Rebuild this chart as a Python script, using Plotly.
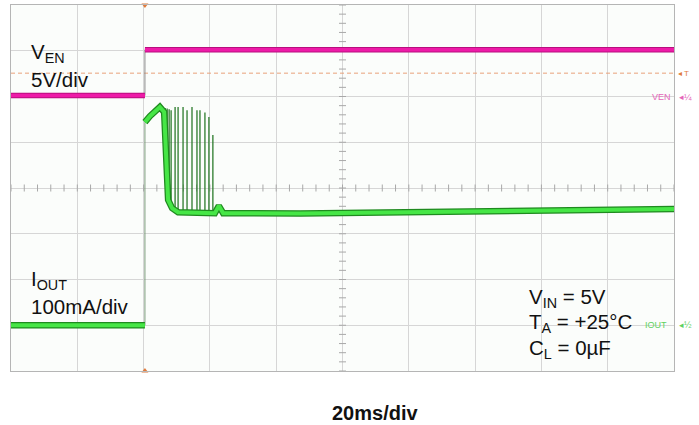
import plotly.graph_objects as go

# ---- data (time in ms from left edge of screen, 20 ms/div) ----
ven_t = [0.0, 40.4, 40.4, 200.0]          # ms
ven_v = [0.0, 0.0, 5.0, 5.0]              # V  (5 V/div)
trigger_level_v = 2.45                    # V

iout_t = [0.0, 40.4, 40.4, 41.9, 44.9, 46.2, 47.4, 48.6, 50.4, 61.5, 62.7, 64.0,
          87.2, 117.3, 147.5, 177.7, 200.0]
iout_ma = [0, 0, 444, 457, 477, 466, 274, 256, 247, 245, 261, 245,
           244, 247, 250, 252, 254]       # mA (100 mA/div)

spike_t = [46.5, 47.1, 47.7, 48.3, 49.5, 50.4, 51.9, 53.1, 54.6, 56.1, 57.0, 58.5, 59.7, 60.9]
spike_top = [475, 474, 472, 470, 477, 477, 477, 470, 477, 470, 470, 465, 455, 416]
spike_base = [420, 330, 280, 262, 248, 247, 246, 246, 246, 245, 245, 245, 245, 245]

W, H = 699, 425
L, R, T, B = 11, 25, 5, 54
FONT = "Liberation Sans, Arial, sans-serif"


def px(xp):
    return (xp - L) / (W - L - R)


def py(yp):
    return (H - B - yp) / (H - T - B)


fig = go.Figure()

# centre-line graticule ticks
ct_x = [i * 4 for i in range(51)]
fig.add_trace(go.Scatter(x=ct_x, y=[4] * len(ct_x), mode="markers",
                         marker=dict(symbol="line-ns-open", size=5, color="#a8a8a8",
                                     line=dict(width=1, color="#a8a8a8")),
                         hoverinfo="skip", showlegend=False))
ct_y = [i * 0.2 for i in range(41)]
fig.add_trace(go.Scatter(x=[100] * len(ct_y), y=ct_y, mode="markers",
                         marker=dict(symbol="line-ew-open", size=5, color="#a8a8a8",
                                     line=dict(width=1, color="#a8a8a8")),
                         hoverinfo="skip", showlegend=False))

# trigger level (dashed orange)
fig.add_trace(go.Scatter(x=[0, 200], y=[trigger_level_v] * 2, yaxis="y2", mode="lines",
                         line=dict(color="#e8a27a", width=1, dash="4px,3px"),
                         hoverinfo="skip", showlegend=False))

# ---- VEN channel ----
fig.add_trace(go.Scatter(x=ven_t, y=ven_v, yaxis="y2", mode="lines",
                         line=dict(color="#8a8a8a", width=1), showlegend=False))
ven_seg_x = ven_t[:2] + [None] + ven_t[2:]
ven_seg_y = ven_v[:2] + [None] + ven_v[2:]
fig.add_trace(go.Scatter(x=ven_seg_x, y=ven_seg_y, yaxis="y2", mode="lines",
                         line=dict(color="#b80f7e", width=5.5), showlegend=False))
fig.add_trace(go.Scatter(x=ven_seg_x, y=ven_seg_y, yaxis="y2", mode="lines",
                         line=dict(color="#ee1ba8", width=3.5), showlegend=False))

# ---- IOUT channel ----
fig.add_trace(go.Scatter(x=iout_t[:3], y=iout_ma[:3], yaxis="y3", mode="lines",
                         line=dict(color="#7a9a7a", width=1), showlegend=False))
sx, sy = [], []
for t, top, base in zip(spike_t, spike_top, spike_base):
    sx += [t, t, None]
    sy += [base, top, None]
fig.add_trace(go.Scatter(x=sx, y=sy, yaxis="y3", mode="lines",
                         line=dict(color="#2a7a2a", width=1.3), showlegend=False))
io_seg_x = iout_t[:2] + [None] + iout_t[2:]
io_seg_y = iout_ma[:2] + [None] + iout_ma[2:]
fig.add_trace(go.Scatter(x=io_seg_x, y=io_seg_y, yaxis="y3", mode="lines",
                         line=dict(color="#1f8a1f", width=6.5), showlegend=False))
fig.add_trace(go.Scatter(x=io_seg_x, y=io_seg_y, yaxis="y3", mode="lines",
                         line=dict(color="#46e646", width=4), showlegend=False))

# trigger position markers
fig.add_trace(go.Scatter(x=[40.4, 40.4], y=[8, 0], mode="markers", cliponaxis=False,
                         marker=dict(symbol=["triangle-down", "triangle-up"], size=6,
                                     color="#e07b3c"),
                         hoverinfo="skip", showlegend=False))

ann = []


def text(x, y, s, size=20.5, color="#111111", xanchor="left", yanchor="middle", bold=False):
    if bold:
        s = "<b>" + s + "</b>"
    ann.append(dict(x=x, y=y, xref="paper", yref="paper", text=s, showarrow=False,
                    xanchor=xanchor, yanchor=yanchor, borderpad=0,
                    font=dict(family=FONT, size=size, color=color)))


text(px(30), py(67), "V<sub>EN</sub>", yanchor="bottom")
text(px(30), py(67), "5V/div", yanchor="top")
text(px(30), py(294), "I<sub>OUT</sub>", yanchor="bottom")
text(px(30), py(294), "100mA/div", yanchor="top")
text(px(528), py(298), "V<sub>IN</sub> = 5V")
text(px(528), py(323), "T<sub>A</sub> = +25°C")
text(px(528), py(349), "C<sub>L</sub> = 0µF")
text(px(375), py(413), "20ms/div", size=20, xanchor="center", bold=True)

# right-hand channel markers
text(px(677), py(73), "◂ T", size=8, color="#e07b3c")
text(px(651), py(97), "VEN", size=9, color="#e466b8")
text(px(678), py(97), "◂¼", size=9, color="#e466b8")
text(px(644), py(325), "IOUT", size=9, color="#5fd25f")
text(px(678), py(325), "◂½", size=9, color="#5fd25f")

fig.update_layout(
    width=W, height=H,
    margin=dict(l=L, r=R, t=T, b=B),
    paper_bgcolor="white",
    plot_bgcolor="#fbfdfb",
    showlegend=False,
    annotations=ann,
    xaxis=dict(range=[0, 200], dtick=20, showgrid=True, gridcolor="#d6d6d6",
               gridwidth=1, zeroline=False, showticklabels=False, ticks="",
               showline=True, linecolor="#b5b5b5", mirror=True),
    yaxis=dict(range=[0, 8], dtick=1, showgrid=True, gridcolor="#d6d6d6",
               gridwidth=1, zeroline=False, showticklabels=False, ticks="",
               showline=True, linecolor="#b5b5b5", mirror=True),
    yaxis2=dict(overlaying="y", range=[-30.1, 9.9], visible=False),
    yaxis3=dict(overlaying="y", range=[-100, 700], visible=False),
)

fig.write_html("out.html", config={"displayModeBar": False},
               post_script="document.body.style.margin='0px';")
